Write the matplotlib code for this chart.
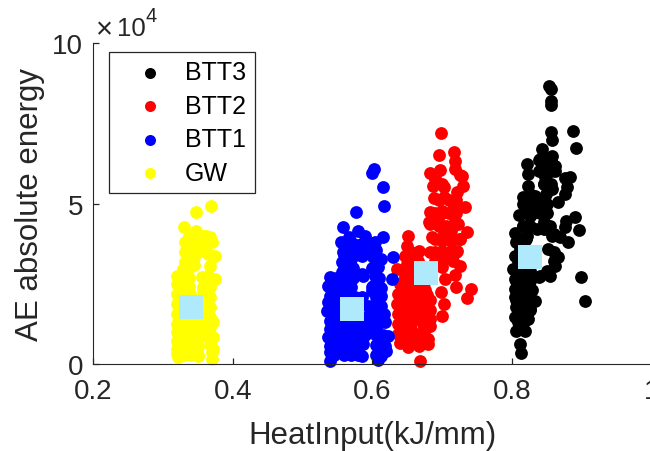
import matplotlib
matplotlib.use('Agg')
import matplotlib.pyplot as plt

plt.rcParams['font.family'] = ['Liberation Sans', 'DejaVu Sans']

gw_x = [.369, .348, .330, .348, .368, .332, .341, .358, .370, .332, .344, .358, .375, .332, .344, .365, .358,
        .320, .329, .339, .368, .356, .375, .365, .320, .332, .368, .320, .332, .368, .320, .368, .320, .368,
        .372, .320, .332, .344, .356, .368, .320, .334, .349, .368, .372, .320, .334, .349, .368, .372, .320,
        .322, .334, .351, .351, .370, .370, .325, .344, .356, .344, .320, .339, .358,
        .330, .340, .350, .328, .338, .348, .328, .338, .348, .358, .328, .338, .348, .358, .328, .338, .348,
        .358, .328, .355, .360, .328, .338, .358, .328, .338, .358, .330, .338, .335, .345, .338, .350, .360,
        .338, .350, .362]
gw_y = [4.92, 4.74, 4.28, 4.14, 3.95, 3.81, 3.95, 4.00, 3.79, 3.48, 3.64, 3.74, 3.36, 3.17, 3.33, 3.43, 3.53,
        2.76, 2.97, 3.02, 3.07, 2.71, 2.66, 2.76, 2.50, 2.60, 2.40, 2.19, 2.29, 2.08, 1.88, 1.77, 1.57, 1.46,
        1.31, 1.26, 1.15, 1.26, 1.31, 1.15, 0.997, 0.95, 0.997, 0.89, 0.84, 0.74, 0.69, 0.74, 0.63, 0.48, 0.48,
        0.22, 0.43, 0.27, 0.53, 0.17, 0.38, 1.41, 1.77, 1.67, 1.46, 0.32, 2.19, 2.29,
        0.30, 0.30, 0.30, 0.60, 0.60, 0.60, 0.90, 0.90, 0.90, 0.90, 1.20, 1.20, 1.20, 1.20, 1.50, 1.50, 1.50,
        1.50, 1.80, 1.80, 1.80, 2.10, 2.10, 2.10, 2.40, 2.40, 2.40, 2.70, 2.70, 3.10, 3.10, 3.60, 3.60, 3.60,
        4.00, 4.00, 4.00]

btt1_x = [.603, .600, .615, .617, .577, .558, .580, .566, .589, .615, .555, .570, .585, .604, .605, .630, .558,
          .573, .589, .613, .556, .570, .585, .601, .539, .556, .566, .608, .587, .604, .628, .537, .554, .566,
          .585, .601, .613, .539, .556, .566, .613, .599, .537, .551, .594, .613, .535, .549, .594, .616, .618,
          .539, .551, .566, .580, .594, .608, .539, .554, .568, .582, .599, .623, .537, .551, .570, .585, .611,
          .618, .539, .554, .573, .587, .608, .539, .551, .573, .585, .611, .620, .539, .542, .608, .613, .575,
          .545, .560, .570, .580, .605, .545, .560, .575, .605, .545, .560, .575, .590, .605, .615, .545, .560,
          .575, .590, .605, .545, .560, .600, .610, .545, .560, .600, .607, .545, .560, .575, .585, .605, .545,
          .558, .570, .600, .548, .560, .572, .610, .560, .572, .600, .560, .575, .600, .560, .580, .595]
btt1_y = [6.07, 5.95, 5.52, 4.92, 4.75, 4.28, 4.16, 3.95, 4.00, 3.95, 3.82, 3.79, 3.74, 3.79, 3.57, 3.35, 3.48,
          3.64, 3.64, 3.28, 3.17, 3.28, 3.38, 3.33, 2.71, 2.86, 2.96, 3.02, 2.76, 2.76, 2.65, 2.45, 2.55, 2.65,
          2.81, 2.45, 2.39, 2.14, 2.24, 2.29, 2.14, 2.29, 1.93, 1.98, 1.83, 1.83, 1.65, 1.67, 1.51, 1.57, 1.31,
          1.36, 1.41, 1.31, 1.20, 1.20, 1.26, 1.10, 1.10, 1.15, 1.00, 1.10, 0.89, 0.84, 0.89, 0.89, 0.79, 0.84,
          0.58, 0.58, 0.69, 0.58, 0.63, 0.63, 0.37, 0.43, 0.43, 0.27, 0.37, 0.43, 0.11, 0.27, 0.13, 0.27, 0.48,
          0.30, 0.30, 0.30, 0.30, 0.30, 0.60, 0.60, 0.60, 0.60, 0.90, 0.90, 0.90, 0.90, 0.90, 0.90, 1.20, 1.20,
          1.20, 1.20, 1.20, 1.50, 1.50, 1.50, 1.50, 1.80, 1.80, 1.80, 1.80, 2.10, 2.10, 2.10, 2.10, 2.10, 2.40,
          2.40, 2.40, 2.40, 2.70, 2.70, 2.70, 2.70, 3.00, 3.00, 3.00, 3.40, 3.40, 3.40, 3.70, 3.70, 3.70]

btt2_x = [.698, .696, .717, .718, .697, .682, .718, .728, .690, .730, .687, .702, .721, .688, .702, .718, .733,
          .682, .699, .716, .681, .694, .718, .682, .723, .735, .702, .713, .686, .725, .651, .699, .713, .650,
          .666, .682, .721, .702, .647, .716, .725, .635, .649, .699, .718, .704, .647, .719, .698, .741, .736,
          .639, .654, .678, .702, .637, .654, .668, .700, .635, .651, .673, .680, .637, .654, .670, .682, .637,
          .651, .673, .637, .651, .675, .639, .651, .666, .680, .668, .644, .666,
          .645, .655, .670, .680, .643, .655, .675, .643, .653, .663, .673, .683, .643, .653, .663, .673, .683,
          .643, .653, .663, .673, .683, .645, .655, .665, .675, .645, .655, .665, .675, .648, .658, .668, .655,
          .665, .690, .700, .655, .690, .700, .710, .720, .690, .710, .715, .725, .695, .705, .715, .690, .700,
          .710, .720, .695, .710, .720, .700, .690, .725]
btt2_y = [7.19, 6.50, 6.59, 6.33, 6.04, 5.94, 6.07, 5.87, 5.76, 5.56, 5.56, 5.50, 5.35, 5.17, 5.19, 5.09, 4.88,
          4.73, 4.78, 4.83, 4.42, 4.52, 4.47, 4.36, 4.36, 4.11, 4.11, 4.16, 3.95, 3.90, 4.00, 3.85, 3.85, 3.69,
          3.54, 3.48, 3.54, 3.38, 3.38, 3.20, 3.07, 2.97, 3.12, 3.02, 2.79, 2.65, 2.76, 2.40, 2.26, 2.34, 2.06,
          2.50, 2.50, 2.17, 1.88, 2.19, 2.19, 2.19, 1.50, 1.88, 1.88, 1.83, 1.67, 1.57, 1.57, 1.51, 1.18, 1.26,
          1.26, 1.26, 0.94, 0.99, 0.84, 0.65, 0.55, 0.58, 0.63, 0.12, 0.84, 0.94,
          0.80, 0.80, 0.80, 0.80, 1.10, 1.10, 1.10, 1.40, 1.40, 1.40, 1.40, 1.40, 1.70, 1.70, 1.70, 1.70, 1.70,
          2.00, 2.00, 2.00, 2.00, 2.00, 2.30, 2.30, 2.30, 2.30, 2.60, 2.60, 2.60, 2.60, 2.90, 2.90, 2.90, 3.20,
          3.20, 3.20, 3.20, 3.50, 3.50, 3.50, 3.50, 3.50, 3.90, 3.90, 3.90, 3.90, 4.30, 4.30, 4.30, 4.70, 4.70,
          4.70, 4.70, 5.10, 5.10, 5.10, 5.60, 5.90, 5.90]

btt3_x = [.853, .855, .856, .856, .855, .857, .887, .891, .843, .857, .822, .838, .849, .861, .823, .838, .852,
          .847, .883, .876, .823, .879, .845, .857, .816, .833, .849, .876, .866, .816, .838, .826, .810, .826,
          .890, .877, .896, .876, .845, .835, .854, .804, .816, .857, .869, .880, .806, .821, .852, .866, .861,
          .804, .802, .838, .854, .898, .904, .804, .816, .804, .821, .804, .833, .806, .826, .804, .823, .806,
          .818, .811, .813, .809, .811, .816, .814, .814,
          .812, .815, .808, .815, .822, .808, .815, .822, .826, .806, .813, .820, .827, .806, .813, .820, .828,
          .806, .815, .825, .806, .815, .826, .808, .820, .812, .820, .812, .820, .815, .825, .820, .830, .840,
          .850, .830, .840, .850, .826, .845, .855, .845, .855, .862, .840, .845, .855, .850, .840, .850, .860,
          .860, .850, .845, .860]
btt3_y = [8.66, 8.56, 8.20, 8.06, 7.21, 6.98, 7.25, 6.73, 6.70, 6.49, 6.23, 6.35, 6.38, 6.18, 5.92, 6.02, 6.07,
          5.83, 5.83, 5.79, 5.56, 5.50, 5.61, 5.45, 5.19, 5.25, 5.30, 5.30, 5.04, 4.99, 4.83, 5.04, 4.64, 4.62,
          4.57, 4.47, 4.19, 4.26, 4.42, 4.21, 4.31, 4.10, 4.31, 4.00, 3.95, 3.81, 3.79, 4.00, 3.59, 3.33, 3.07,
          3.38, 2.97, 2.71, 2.76, 2.71, 1.98, 2.65, 2.76, 2.34, 2.40, 2.08, 1.98, 1.77, 1.72, 1.46, 1.41, 1.05,
          1.05, 0.63, 0.34, 1.31, 2.14, 1.93, 1.63, 2.55,
          1.10, 1.10, 1.40, 1.40, 1.40, 1.70, 1.70, 1.70, 1.70, 2.00, 2.00, 2.00, 2.00, 2.30, 2.30, 2.30, 2.30,
          2.60, 2.60, 2.60, 2.90, 2.90, 2.90, 3.20, 3.20, 3.60, 3.60, 3.90, 3.90, 4.30, 4.30, 4.70, 4.70, 4.70,
          4.70, 5.00, 5.00, 5.00, 5.30, 5.60, 5.60, 6.00, 6.00, 6.00, 6.40, 6.40, 6.40, 6.15, 2.75, 2.90, 3.20,
          3.50, 4.20, 4.20, 4.05]

mean_x = [.341, .571, .677, .826]
mean_y = [1.787, 1.73, 2.84, 3.35]

x_ticks = [0.2, 0.4, 0.6, 0.8, 1]
x_tick_labels = ['0.2', '0.4', '0.6', '0.8', '1']
y_ticks = [0, 5, 10]

DARK = '#262626'

fig = plt.figure(figsize=(6.5, 4.52), dpi=100)
ax = fig.add_axes([93 / 650, 86.6 / 452, 558.8 / 650, 321.7 / 452])

dot = 85
ax.scatter(btt3_x, btt3_y, s=dot, c='k', linewidths=0, clip_on=False, label='BTT3')
ax.scatter(btt2_x, btt2_y, s=dot, c='r', linewidths=0, clip_on=False, label='BTT2')
ax.scatter(btt1_x, btt1_y, s=dot, c='b', linewidths=0, clip_on=False, label='BTT1')
ax.scatter(gw_x, gw_y, s=dot, c='#ffff00', linewidths=0, clip_on=False, label='GW')
ax.scatter(mean_x, mean_y, s=298, c='#aeeafc', marker='s', linewidths=0, zorder=3)

ax.set_xlim(0.2, 1)
ax.set_ylim(0, 10)
ax.set_xticks(x_ticks)
ax.set_xticklabels(x_tick_labels)
ax.set_yticks(y_ticks)
ax.tick_params(direction='in', length=4, width=0.9, labelsize=20, colors=DARK, pad=7)
ax.tick_params(axis='x', pad=10)
ax.spines['top'].set_visible(False)
ax.spines['right'].set_visible(False)
ax.spines['left'].set_color(DARK)
ax.spines['bottom'].set_color(DARK)
ax.set_xlabel('HeatInput(kJ/mm)', fontsize=22.5, color=DARK, labelpad=11)
ax.set_ylabel('AE absolute energy', fontsize=22.5, color=DARK, labelpad=5)

leg = ax.legend(loc='upper left', bbox_to_anchor=(108.5 / 650, 1 - 53 / 452), bbox_transform=fig.transFigure,
                fontsize=18, frameon=True, fancybox=False, framealpha=1, edgecolor=DARK, borderaxespad=0,
                borderpad=0.33, labelspacing=0.38, handletextpad=0.06, handlelength=2.68, markerscale=0.86)
leg.get_frame().set_linewidth(0.9)

fig.text(96 / 650, 1 - 38 / 452, '×', fontsize=21, color=DARK, va='baseline')
fig.text(117 / 650, 1 - 36 / 452, '10', fontsize=18.5, color=DARK, va='baseline')
fig.text(145 / 650, 1 - 22 / 452, '4', fontsize=14.5, color=DARK, va='baseline')

fig.savefig('out.png', dpi=100)
